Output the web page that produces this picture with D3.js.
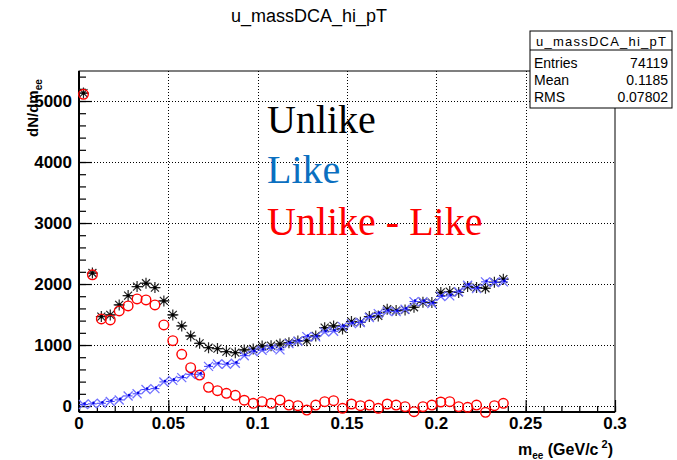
<!DOCTYPE html>
<html><head><meta charset="utf-8">
<script src="https://cdn.jsdelivr.net/npm/d3@7"></script>
<style>body{margin:0;background:#fff;} svg{display:block;}</style>
</head><body>
<script>
// ---- data ----
const binCenters = [0.0025,0.0075,0.0125,0.0175,0.0225,0.0275,0.0325,0.0375,0.0425,0.0475,
  0.0525,0.0575,0.0625,0.0675,0.0725,0.0775,0.0825,0.0875,0.0925,0.0975,
  0.1025,0.1075,0.1125,0.1175,0.1225,0.1275,0.1325,0.1375,0.1425,0.1475,
  0.1525,0.1575,0.1625,0.1675,0.1725,0.1775,0.1825,0.1875,0.1925,0.1975,
  0.2025,0.2075,0.2125,0.2175,0.2225,0.2275,0.2325,0.2375];
const unlikeValues = [5130,2180,1466,1493,1657,1810,1958,2013,1941,1723,
  1493,1313,1149,1028,957,941,892,875,920,935,
  985,990,1017,1039,1067,1072,1149,1285,1313,1264,
  1384,1373,1466,1477,1586,1564,1575,1619,1701,1696,
  1862,1876,1862,1958,1941,1931,2029,2079];
const likeValues = [25,35,45,75,100,165,200,270,285,395,
  420,465,520,520,650,690,685,700,825,890,
  915,945,920,1023,1062,1138,1133,1214,1226,1302,
  1351,1368,1450,1515,1553,1548,1586,1712,1712,1680,
  1796,1805,1873,1980,1925,2035,2024,2035];
const diffValues = [5110,2150,1428,1411,1559,1641,1756,1739,1657,1329,
  1072,848,629,508,306,252,208,175,95,44,
  71,44,98,16,5,-66,16,71,87,-38,
  33,5,16,-38,33,16,-11,-93,-11,16,
  66,71,-11,-22,16,-104,5,44];
const binWidth = 0.005;
const xTicks = [0,0.05,0.1,0.15,0.2,0.25,0.3];
const yTicks = [0,1000,2000,3000,4000,5000];
const legendLabels = ["Unlike","Like","Unlike - Like"];
const statsLabels = ["Entries","Mean","RMS"];
const statsValues = ["74119","0.1185","0.07802"];
const title = "u_massDCA_hi_pT";

// ---- layout ----
const W = 677, H = 460;
const L = 79, R = 615, T = 71, B = 412;
const svg = d3.select("body").append("svg").attr("width",W).attr("height",H)
  .style("font-family","'Liberation Sans',Arial,sans-serif");

const x = d3.scaleLinear().domain([0,0.3]).range([L,R]);
const y = d3.scaleLinear().domain([-98,5492]).range([B,T]);

// grid
const g = svg.append("g");
g.selectAll(".gx").data(xTicks.filter(t=>t>0&&t<0.3)).enter().append("line")
  .attr("x1",d=>Math.round(x(d))+0.5).attr("x2",d=>Math.round(x(d))+0.5).attr("y1",T).attr("y2",B)
  .attr("stroke","#000").attr("stroke-width",1).attr("stroke-dasharray","1,2");
g.selectAll(".gy").data(yTicks).enter().append("line")
  .attr("x1",L).attr("x2",R).attr("y1",d=>Math.round(y(d))+0.5).attr("y2",d=>Math.round(y(d))+0.5)
  .attr("stroke","#000").attr("stroke-width",1).attr("stroke-dasharray","1,2");

// axes via d3
const xAxisMajor = d3.axisTop(x).tickValues(xTicks).tickSize(12).tickFormat("");
const xAxisMinor = d3.axisTop(x).tickValues(d3.range(0,0.3001,0.01)).tickSize(6).tickFormat("");
svg.append("g").attr("transform",`translate(0,${B})`).call(xAxisMinor).call(s=>s.select(".domain").remove());
svg.append("g").attr("transform",`translate(0,${B})`).call(xAxisMajor).call(s=>s.select(".domain").remove());
const yAxisMajor = d3.axisRight(y).tickValues(yTicks).tickSize(13).tickFormat("");
const yAxisMinor = d3.axisRight(y).tickValues(d3.range(0,5401,200)).tickSize(7).tickFormat("");
svg.append("g").attr("transform",`translate(${L},0)`).call(yAxisMinor).call(s=>s.select(".domain").remove());
svg.append("g").attr("transform",`translate(${L},0)`).call(yAxisMajor).call(s=>s.select(".domain").remove());
svg.selectAll(".tick line").attr("stroke","#000").attr("stroke-width",1.2);

// tick labels
svg.append("g").selectAll("text").data(xTicks).enter().append("text")
  .attr("x",d=>x(d)).attr("y",429).attr("text-anchor","middle")
  .attr("font-size",17).attr("font-weight","bold").text(d=>d3.format("")(d));
svg.append("g").selectAll("text").data(yTicks).enter().append("text")
  .attr("x",72).attr("y",d=>y(d)+6).attr("text-anchor","end")
  .attr("font-size",17).attr("font-weight","bold").text(d=>d);

// frame
svg.append("rect").attr("x",L).attr("y",T).attr("width",R-L).attr("height",B-T)
  .attr("fill","none").attr("stroke","#000").attr("stroke-width",1);
svg.append("line").attr("x1",L).attr("x2",L).attr("y1",T).attr("y2",B).attr("stroke","#000").attr("stroke-width",2);
svg.append("line").attr("x1",L).attr("x2",R).attr("y1",B).attr("y2",B).attr("stroke","#000").attr("stroke-width",2);

// data
const idx = d3.range(binCenters.length);
const hw = (x(binWidth)-x(0))/2;
// black unlike
const gb = svg.append("g");
idx.forEach(i=>{
  const cx = x(binCenters[i]), cy = y(unlikeValues[i]);
  gb.append("line").attr("x1",cx-hw).attr("x2",cx+hw).attr("y1",cy).attr("y2",cy).attr("stroke","#000").attr("stroke-width",1);
  const s=5.5, d=4;
  gb.append("path").attr("d",`M${cx-s},${cy}H${cx+s}M${cx},${cy-s}V${cy+s}M${cx-d},${cy-d}L${cx+d},${cy+d}M${cx-d},${cy+d}L${cx+d},${cy-d}`)
    .attr("stroke","#222").attr("stroke-width",1.2).attr("fill","none");
  gb.append("circle").attr("cx",cx).attr("cy",cy).attr("r",1.6).attr("fill","#000");
});
// blue like
const gl = svg.append("g");
idx.forEach(i=>{
  const cx = x(binCenters[i]), cy = y(likeValues[i]);
  gl.append("line").attr("x1",cx-hw).attr("x2",cx+hw).attr("y1",cy).attr("y2",cy).attr("stroke","#3a3aff").attr("stroke-width",1);
  const d=4.5;
  gl.append("path").attr("d",`M${cx-d},${cy-d}L${cx+d},${cy+d}M${cx-d},${cy+d}L${cx+d},${cy-d}`)
    .attr("stroke","#6f6fff").attr("stroke-width",1.3).attr("fill","none");
  gl.append("circle").attr("cx",cx+1).attr("cy",cy-1).attr("r",1.3).attr("fill","#0000e0");
});
// red diff
svg.append("g").selectAll("circle").data(idx).enter().append("circle")
  .attr("cx",i=>x(binCenters[i])).attr("cy",i=>y(diffValues[i])).attr("r",4.8)
  .attr("fill","none").attr("stroke","#ff0000").attr("stroke-width",1.4);

// legend text
const legendColors = ["#000000","#0b6fc0","#ff0000"];
const legendY = [133,183,235];
svg.append("g").selectAll("text").data(legendLabels).enter().append("text")
  .attr("x",267).attr("y",(d,i)=>legendY[i]).attr("fill",(d,i)=>legendColors[i])
  .attr("font-family","'Liberation Serif','Times New Roman',serif").attr("font-size",40).text(d=>d);

// title
svg.append("text").attr("x",309).attr("y",22).attr("text-anchor","middle").attr("font-size",18).text(title);

// axis titles
const yt = svg.append("text").attr("transform","translate(38,137) rotate(-90)")
  .attr("font-size",15).attr("font-weight","bold");
yt.append("tspan").text("dN/dm");
yt.append("tspan").attr("font-size",10).attr("dy",4).text("ee");
const xt = svg.append("text").attr("x",613).attr("y",455).attr("text-anchor","end")
  .attr("font-size",16).attr("font-weight","bold");
xt.append("tspan").text("m");
xt.append("tspan").attr("font-size",10).attr("dy",4).text("ee");
xt.append("tspan").attr("dy",-4).text(" (GeV/c");
xt.append("tspan").attr("font-size",11).attr("dy",-7).text(" 2");
xt.append("tspan").attr("dy",7).text(")");

// stats box
const bx=530, by=31, bw=142, bh=77, hy=50;
svg.append("rect").attr("x",bx).attr("y",by).attr("width",bw).attr("height",bh).attr("fill","#fff").attr("stroke","#000").attr("stroke-width",1);
svg.append("line").attr("x1",bx).attr("x2",bx+bw).attr("y1",hy).attr("y2",hy).attr("stroke","#000");
svg.append("text").attr("x",bx+bw/2).attr("y",46).attr("text-anchor","middle").attr("font-size",13)
  .attr("textLength",130).attr("lengthAdjust","spacing").text(title);
const rowsY=[68,85,102];
svg.append("g").selectAll("text").data(statsLabels).enter().append("text")
  .attr("x",bx+4).attr("y",(d,i)=>rowsY[i]).attr("font-size",14).text(d=>d);
svg.append("g").selectAll("text").data(statsValues).enter().append("text")
  .attr("x",bx+bw-4).attr("y",(d,i)=>rowsY[i]).attr("text-anchor","end").attr("font-size",14).text(d=>d);
</script>
</body></html>
